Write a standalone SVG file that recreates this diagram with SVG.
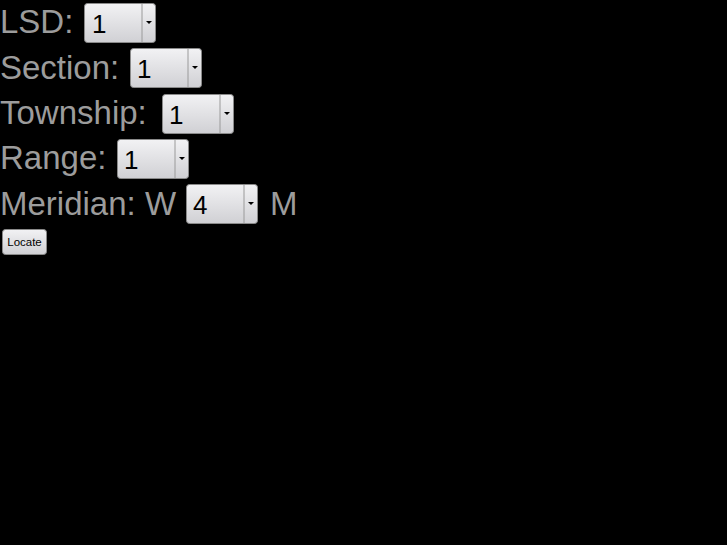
<svg xmlns="http://www.w3.org/2000/svg" width="727" height="545" viewBox="0 0 727 545">
<defs>
<linearGradient id="g" x1="0" y1="0" x2="0" y2="1">
<stop offset="0" stop-color="#f2f2f4"/>
<stop offset="1" stop-color="#d0d0d4"/>
</linearGradient>
<g id="sel">
<rect x="0.5" y="0.5" width="71" height="39" rx="3" fill="url(#g)" stroke="#8a8a8a"/>
<line x1="58" y1="1" x2="58" y2="39" stroke="#9a9a9a"/>
<path d="M62 18 h6 l-3 3 z" fill="#000"/>
</g>
</defs>
<style>
.lbl{font-family:"Liberation Sans",Arial,sans-serif;font-size:33px;fill:#9c9c9c}
.val{font-family:"Liberation Sans",Arial,sans-serif;font-size:26px;fill:#000}
.btn{font-family:"Liberation Sans",Arial,sans-serif;font-size:11.5px;fill:#000}
</style>
<rect width="727" height="545" fill="#000"/>
<g id="lsd">
<text class="lbl" x="0" y="33">LSD:</text>
<use href="#sel" x="84" y="3"/>
<text class="val" x="92" y="33">1</text>
</g>
<g id="section">
<text class="lbl" x="0" y="79">Section:</text>
<use href="#sel" x="130" y="48"/>
<text class="val" x="137" y="78">1</text>
</g>
<g id="township">
<text class="lbl" x="0" y="124">Township:</text>
<use href="#sel" x="162" y="94"/>
<text class="val" x="169" y="124">1</text>
</g>
<g id="range">
<text class="lbl" x="0" y="169">Range:</text>
<use href="#sel" x="117" y="139"/>
<text class="val" x="124" y="169">1</text>
</g>
<g id="meridian">
<text class="lbl" x="0" y="215">Meridian: W</text>
<use href="#sel" x="186" y="184"/>
<text class="val" x="193" y="214">4</text>
<text class="lbl" x="270" y="215">M</text>
</g>
<g id="locate">
<rect x="2.5" y="229.5" width="44" height="25" rx="3" fill="url(#g)" stroke="#8a8a8a"/>
<text class="btn" x="24.5" y="246" text-anchor="middle">Locate</text>
</g>
</svg>
